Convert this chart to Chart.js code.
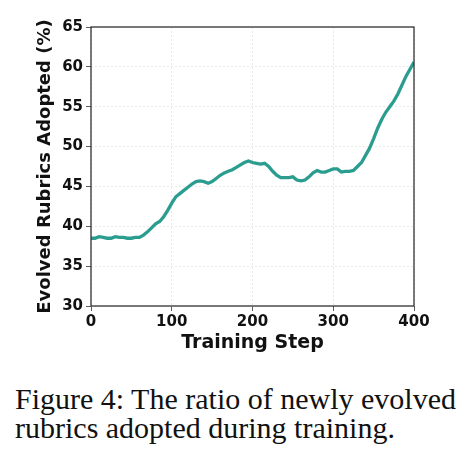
<!DOCTYPE html>
<html>
<head>
<meta charset="utf-8">
<script src="https://cdn.jsdelivr.net/npm/chart.js@4.4.1/dist/chart.umd.min.js"></script>
<style>
  html, body { margin: 0; padding: 0; background: #fff; }
  #wrap { position: relative; width: 470px; height: 463px; overflow: hidden; }
  #c { position: absolute; left: 0; top: 0; }
  #cap { position: absolute; left: 15px; top: 384px; width: 455px;
         font-family: "Liberation Serif", "Times New Roman", serif; font-size: 30px;
         line-height: 29px; color: #111; white-space: nowrap; }
</style>
</head>
<body>
<div id="wrap">
  <canvas id="c" width="470" height="360"></canvas>
  <div id="cap">Figure 4: The ratio of newly evolved<br>rubrics adopted during training.</div>
</div>
<script>
const steps = [0,5,10,15,20,25,30,35,40,45,50,55,60,65,70,75,80,85,90,95,
  100,105,110,115,120,125,130,135,140,145,150,155,160,165,170,175,180,185,190,195,
  200,205,210,215,220,225,230,235,240,245,250,255,260,265,270,275,280,285,290,295,
  300,305,310,315,320,325,330,335,340,345,350,355,360,365,370,375,380,385,390,395,400];
const adopted = [38.5,38.5,38.7,38.6,38.5,38.5,38.7,38.6,38.6,38.5,38.5,38.6,38.6,38.9,39.3,39.8,40.3,40.6,41.2,42.0,
  42.9,43.7,44.1,44.5,44.9,45.3,45.6,45.7,45.6,45.4,45.6,46.0,46.4,46.7,46.9,47.1,47.4,47.7,48.0,48.2,
  48.0,47.9,47.8,47.9,47.5,46.9,46.4,46.1,46.1,46.1,46.2,45.8,45.7,45.8,46.2,46.7,47.0,46.8,46.8,47.0,
  47.2,47.2,46.8,46.9,46.9,47.0,47.5,48.0,48.9,49.8,51.0,52.3,53.4,54.3,55.0,55.7,56.6,57.7,58.8,59.7,60.6];
const xTicks = [0,100,200,300,400];
const yTicks = [30,35,40,45,50,55,60,65];

const points = steps.map((s, i) => ({x: s, y: adopted[i]}));

const boxPlugin = {
  id: 'box',
  afterDatasetsDraw(chart) {
    const {ctx, chartArea: a} = chart;
    ctx.save();
    ctx.strokeStyle = '#333';
    ctx.lineWidth = 1.3;
    ctx.strokeRect(a.left, a.top, a.right - a.left, a.bottom - a.top);
    ctx.restore();
  }
};

const tickFont = {family: 'DejaVu Sans', size: 15, weight: 'bold'};

new Chart(document.getElementById('c'), {
  type: 'line',
  data: {
    datasets: [{
      data: points,
      borderColor: '#2a9d8f',
      borderWidth: 3.3,
      pointRadius: 0,
      tension: 0,
      fill: false
    }]
  },
  options: {
    responsive: false,
    animation: false,
    layout: {padding: {left: 35, right: 56, top: 27, bottom: 0}},
    plugins: {legend: {display: false}, tooltip: {enabled: false}},
    scales: {
      x: {
        type: 'linear', min: 0, max: 400,
        afterBuildTicks(s) { s.ticks = xTicks.map(v => ({value: v})); },
        afterFit(s) { s.height = 54; },
        ticks: {font: tickFont, color: '#111', padding: 2, maxRotation: 0},
        grid: {color: '#e4e4e4', tickColor: '#333', tickLength: 5, tickBorderDash: [], lineWidth: 0.8},
        border: {display: false, dash: [2, 2]},
        title: {display: true, text: 'Training Step', font: {family: 'DejaVu Sans', size: 19, weight: 'bold'}, color: '#111', padding: 6}
      },
      y: {
        min: 30, max: 65,
        afterBuildTicks(s) { s.ticks = yTicks.map(v => ({value: v})); },
        afterFit(s) { s.width = 56; },
        ticks: {font: tickFont, color: '#111', padding: 3},
        grid: {color: '#e4e4e4', tickColor: '#333', tickLength: 5, tickBorderDash: [], lineWidth: 0.8},
        border: {display: false, dash: [2, 2]},
        title: {display: true, text: 'Evolved Rubrics Adopted (%)', font: {family: 'DejaVu Sans', size: 18, weight: 'bold'}, color: '#111', padding: 0}
      }
    }
  },
  plugins: [boxPlugin]
});
</script>
</body>
</html>
